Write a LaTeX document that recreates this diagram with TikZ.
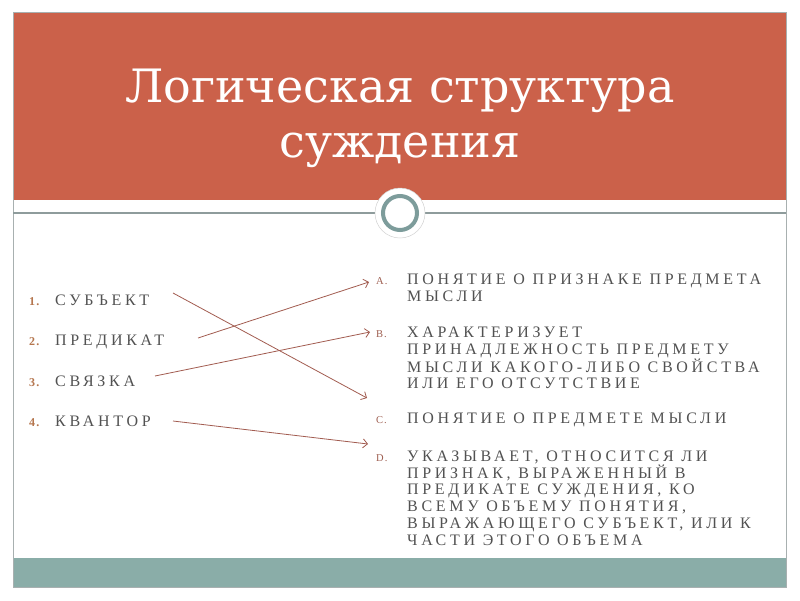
\documentclass[tikz,border=0pt]{standalone}
\usepackage{fontspec}
\setmainfont{Liberation Serif}
\newfontfamily\titlefont{DejaVu Serif}
\newfontfamily\bodyfont[LetterSpace=23]{Liberation Serif}
\newfontfamily\lblfont[LetterSpace=10]{Liberation Serif}
\usetikzlibrary{arrows.meta}
\definecolor{redband}{HTML}{CB614A}
\definecolor{tealband}{HTML}{8AADA8}
\definecolor{framegray}{HTML}{A8B0B0}
\definecolor{sepgray}{HTML}{8E9C9C}
\definecolor{ringcol}{HTML}{7D9C9B}
\definecolor{bodygray}{HTML}{525252}
\definecolor{numcol}{HTML}{B5764E}
\definecolor{lblcol}{HTML}{9E5E50}
\definecolor{arrcol}{HTML}{A25C50}
\tikzset{
  titletext/.style={font=\titlefont\fontsize{46}{56}\selectfont, text=white, inner sep=0pt},
  itemtext/.style={font=\bodyfont\fontsize{16}{16.7}\selectfont, text=bodygray, inner sep=0pt, anchor=base west},
  numtext/.style={font=\lblfont\fontsize{12}{14}\selectfont\bfseries, text=numcol, inner sep=0pt, anchor=base west},
  lbltext/.style={font=\lblfont\fontsize{10.5}{12}\selectfont, text=lblcol, inner sep=0pt, anchor=base west},
  arr/.style={draw=arrcol, line width=0.8pt, -{Straight Barb[length=4.5pt,width=9pt]}}
}
\begin{document}
\begin{tikzpicture}[x=1pt,y=-1pt]
\useasboundingbox (0,0) rectangle (800,600);
\fill[white] (0,0) rectangle (800,600);
% slide
\fill[redband] (13,12) rectangle (786,200);
\fill[tealband] (13,558) rectangle (786,587);
\draw[framegray, line width=0.6pt] (13,12) rectangle (786,587);
\draw[sepgray, line width=1.2pt] (13,213) -- (786,213);
\fill[white] (400,213) circle[radius=25pt];
\draw[gray!35, line width=0.5pt] (400,213) circle[radius=25pt];
\draw[ringcol, line width=4pt] (400,213) circle[radius=17pt];
% title
\node[titletext, anchor=base] (t1) at (400,102) {Логическая структура};
\node[titletext, anchor=base] (t2) at (400,157) {суждения};
% left list
\node[numtext] (n1) at (29,305.5) {1.};
\node[itemtext] (s1) at (55,305.5) {СУБЪЕКТ};
\node[numtext] (n2) at (29,345.5) {2.};
\node[itemtext] (s2) at (55,345.5) {ПРЕДИКАТ};
\node[numtext] (n3) at (29,386.5) {3.};
\node[itemtext] (s3) at (55,386.5) {СВЯЗКА};
\node[numtext] (n4) at (29,426.5) {4.};
\node[itemtext] (s4) at (55,426.5) {КВАНТОР};
% right list
\node[lbltext] (la) at (376,284.5) {A.};
\node[itemtext] (ta) at (407,284.5) {\parbox[t]{390pt}{\raggedright ПОНЯТИЕ О ПРИЗНАКЕ ПРЕДМЕТА\\МЫСЛИ}};
\node[lbltext] (lb) at (376,337.5) {B.};
\node[itemtext] (tb) at (407,337.5) {\parbox[t]{390pt}{\raggedright ХАРАКТЕРИЗУЕТ\\ПРИНАДЛЕЖНОСТЬ ПРЕДМЕТУ\\МЫСЛИ КАКОГО-ЛИБО СВОЙСТВА\\ИЛИ ЕГО ОТСУТСТВИЕ}};
\node[lbltext] (lc) at (376,423.5) {C.};
\node[itemtext] (tc) at (407,423.5) {\parbox[t]{390pt}{\raggedright ПОНЯТИЕ О ПРЕДМЕТЕ МЫСЛИ}};
\node[lbltext] (ld) at (376,461.5) {D.};
\node[itemtext] (td) at (407,461.5) {\parbox[t]{390pt}{\raggedright УКАЗЫВАЕТ, ОТНОСИТСЯ ЛИ\\ПРИЗНАК, ВЫРАЖЕННЫЙ В\\ПРЕДИКАТЕ СУЖДЕНИЯ, КО\\ВСЕМУ ОБЪЕМУ ПОНЯТИЯ,\\ВЫРАЖАЮЩЕГО СУБЪЕКТ, ИЛИ К\\ЧАСТИ ЭТОГО ОБЪЕМА}};
% arrows
\coordinate (a1s) at (173,293);
\coordinate (a1e) at (367,398);
\coordinate (a2s) at (198,338);
\coordinate (a2e) at (369,282);
\coordinate (a3s) at (155,376);
\coordinate (a3e) at (370,332);
\coordinate (a4s) at (173,421);
\coordinate (a4e) at (368,444);
\draw[arr] (a1s) -- (a1e);
\draw[arr] (a2s) -- (a2e);
\draw[arr] (a3s) -- (a3e);
\draw[arr] (a4s) -- (a4e);
\end{tikzpicture}
\end{document}
